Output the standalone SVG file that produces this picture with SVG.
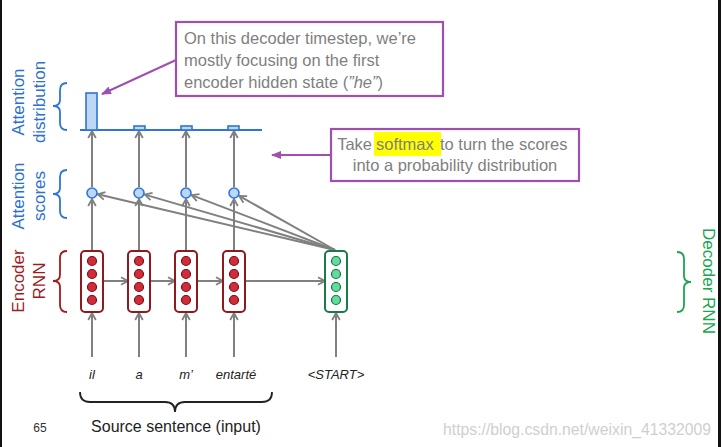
<svg xmlns="http://www.w3.org/2000/svg" width="723" height="447" viewBox="0 0 723 447">
<style>
.t{font-family:"Liberation Sans",Arial,sans-serif}
.gray{fill:#7f7f7f;font-size:16.5px}
.word{font-family:"Liberation Sans",Arial,sans-serif;font-style:italic;font-size:13px;fill:#222}
.blue{fill:#2e6fd0;font-size:17px}
.red{fill:#a01c1c;font-size:17px}
.green{fill:#1aa550;font-size:17px}
.arr{stroke:#808080;stroke-width:2;fill:none;marker-end:url(#ah)}
.enc{fill:#fff;stroke:#8e1a20;stroke-width:2}
.encd{fill:#d22c3a;stroke:#7a1016;stroke-width:1.2}
.dec{fill:#fff;stroke:#1a7a4a;stroke-width:2}
.decd{fill:#62dc9c;stroke:#167046;stroke-width:1.2}
.sc{fill:#bcd6f5;stroke:#2e75d6;stroke-width:1.6}
.bar{fill:#bdd7f5;stroke:#2e75d6;stroke-width:1.6}
.callout{fill:#fff;stroke:#a04fb0;stroke-width:2.2}
.parr{stroke:#a04fb0;stroke-width:2;fill:none;marker-end:url(#pa)}
.brace{fill:none;stroke-width:1.8}
</style>
<defs>
<marker id="ah" viewBox="0 0 10 10" refX="9" refY="5" markerWidth="10" markerHeight="10" markerUnits="userSpaceOnUse" orient="auto">
<path d="M2,1.2 L9,5 L2,8.8" fill="none" stroke="#808080" stroke-width="1.8"/>
</marker>
<marker id="pa" viewBox="0 0 10 10" refX="9" refY="5" markerWidth="10" markerHeight="10" markerUnits="userSpaceOnUse" orient="auto">
<path d="M0,1 L10,5 L0,9 z" fill="#a04fb0"/>
</marker>
</defs>
<rect x="0" y="0" width="723" height="447" fill="#fff"/>
<rect x="0" y="0" width="2" height="447" fill="#111"/>
<rect x="718" y="0" width="3" height="447" fill="#111"/>

<g id="labels">
<g transform="translate(24,102) rotate(-90)" class="t blue" text-anchor="middle"><text x="0" y="0">Attention</text><text x="0" y="21">distribution</text></g>
<g transform="translate(24,196) rotate(-90)" class="t blue" text-anchor="middle"><text x="0" y="0">Attention</text><text x="0" y="21">scores</text></g>
<g transform="translate(24,281) rotate(-90)" class="t red" text-anchor="middle"><text x="0" y="0">Encoder</text><text x="0" y="21">RNN</text></g>
<text transform="translate(703,281) rotate(90)" class="t green" text-anchor="middle">Decoder RNN</text>
<path class="brace" stroke="#2e75d6" d="M67,83 Q60,83 60,90 L60,100 Q60,106 53,106 Q60,106 60,112 L60,123 Q60,130 67,130"/>
<path class="brace" stroke="#2e75d6" d="M67,170 Q60,170 60,177 L60,188 Q60,194 53,194 Q60,194 60,200 L60,211 Q60,218 67,218"/>
<path class="brace" stroke="#a01c1c" d="M67,251 Q60,251 60,258 L60,275 Q60,281 53,281 Q60,281 60,287 L60,305 Q60,312 67,312"/>
<path class="brace" stroke="#1aa550" d="M677,252 Q684,252 684,259 L684,276 Q684,282 691,282 Q684,282 684,288 L684,305 Q684,312 677,312"/>
</g>

<g id="connectors">
<line class="arr" x1="92" y1="251" x2="92" y2="199"/>
<line class="arr" x1="139" y1="251" x2="139" y2="199"/>
<line class="arr" x1="186" y1="251" x2="186" y2="199"/>
<line class="arr" x1="234" y1="251" x2="234" y2="199"/>
<line class="arr" x1="92" y1="187" x2="92" y2="131"/>
<line class="arr" x1="139" y1="187" x2="139" y2="131"/>
<line class="arr" x1="186" y1="187" x2="186" y2="131"/>
<line class="arr" x1="234" y1="187" x2="234" y2="131"/>
<line class="arr" x1="335" y1="250" x2="97.8" y2="194.3"/>
<line class="arr" x1="335" y1="250" x2="144.8" y2="194.6"/>
<line class="arr" x1="335" y1="250" x2="191.6" y2="195.1"/>
<line class="arr" x1="335" y1="250" x2="239.2" y2="195.9"/>
<line class="arr" x1="103" y1="281" x2="128" y2="281"/>
<line class="arr" x1="150" y1="281" x2="175" y2="281"/>
<line class="arr" x1="197" y1="281" x2="223" y2="281"/>
<line class="arr" x1="245" y1="281" x2="325" y2="281"/>
<line class="arr" x1="92" y1="357" x2="92" y2="313"/>
<line class="arr" x1="139" y1="357" x2="139" y2="313"/>
<line class="arr" x1="186" y1="357" x2="186" y2="313"/>
<line class="arr" x1="234" y1="357" x2="234" y2="313"/>
<line class="arr" x1="336" y1="357" x2="336" y2="313"/>
<line class="parr" x1="176" y1="60" x2="102" y2="94"/>
<line class="parr" x1="331" y1="155" x2="272" y2="155"/>
</g>

<g id="attention-distribution">
<line x1="80" y1="130" x2="262" y2="130" stroke="#2e75d6" stroke-width="2"/>
<rect class="bar" x="86" y="93" width="11" height="37"/>
<rect class="bar" x="134" y="126" width="11" height="4"/>
<rect class="bar" x="181" y="126" width="11" height="4"/>
<rect class="bar" x="228" y="126" width="11" height="4"/>
</g>

<g id="attention-scores">
<circle class="sc" cx="92" cy="193" r="5"/>
<circle class="sc" cx="139" cy="193" r="5"/>
<circle class="sc" cx="186" cy="193" r="5"/>
<circle class="sc" cx="234" cy="193" r="5"/>
</g>

<g id="enc1"><rect class="enc" x="81" y="251" width="22" height="61" rx="4"/><circle class="encd" cx="92" cy="261" r="4.5"/><circle class="encd" cx="92" cy="274" r="4.5"/><circle class="encd" cx="92" cy="287" r="4.5"/><circle class="encd" cx="92" cy="300" r="4.5"/></g>
<g id="enc2"><rect class="enc" x="128" y="251" width="22" height="61" rx="4"/><circle class="encd" cx="139" cy="261" r="4.5"/><circle class="encd" cx="139" cy="274" r="4.5"/><circle class="encd" cx="139" cy="287" r="4.5"/><circle class="encd" cx="139" cy="300" r="4.5"/></g>
<g id="enc3"><rect class="enc" x="175" y="251" width="22" height="61" rx="4"/><circle class="encd" cx="186" cy="261" r="4.5"/><circle class="encd" cx="186" cy="274" r="4.5"/><circle class="encd" cx="186" cy="287" r="4.5"/><circle class="encd" cx="186" cy="300" r="4.5"/></g>
<g id="enc4"><rect class="enc" x="223" y="251" width="22" height="61" rx="4"/><circle class="encd" cx="234" cy="261" r="4.5"/><circle class="encd" cx="234" cy="274" r="4.5"/><circle class="encd" cx="234" cy="287" r="4.5"/><circle class="encd" cx="234" cy="300" r="4.5"/></g>
<g id="dec1"><rect class="dec" x="325" y="251" width="22" height="61" rx="4"/><circle class="decd" cx="336" cy="261" r="4.5"/><circle class="decd" cx="336" cy="274" r="4.5"/><circle class="decd" cx="336" cy="287" r="4.5"/><circle class="decd" cx="336" cy="300" r="4.5"/></g>

<g id="words" text-anchor="middle">
<text class="word" x="92" y="379">il</text>
<text class="word" x="139" y="379">a</text>
<text class="word" x="186" y="379">m’</text>
<text class="word" x="236" y="379">entarté</text>
<text class="word" x="336" y="379">&lt;START&gt;</text>
</g>

<g id="source">
<path class="brace" stroke="#222" d="M80,392 Q80,402 90,402 L165,402 Q175,402 175,412 Q175,402 185,402 L262,402 Q272,402 272,392"/>
<text class="t" x="176" y="432" text-anchor="middle" font-size="16" fill="#222">Source sentence (input)</text>
<text class="t" x="40" y="432" text-anchor="middle" font-size="12" fill="#333">65</text>
</g>

<g id="callout1">
<rect class="callout" x="176" y="22" width="267" height="74"/>
<text class="t gray" x="184" y="44">On this decoder timestep, we’re</text>
<text class="t gray" x="184" y="66">mostly focusing on the first</text>
<text class="t gray" x="184" y="88">encoder hidden state (<tspan font-style="italic">”he”</tspan>)</text>
</g>

<g id="callout2">
<rect class="callout" x="331" y="129" width="248" height="52"/>
<rect x="374" y="132" width="67" height="24" fill="#ffff00"/>
<text class="t gray" x="372" y="150" text-anchor="end">Take</text>
<text class="t gray" x="376" y="150">softmax</text>
<text class="t gray" x="440" y="150">to turn the scores</text>
<text class="t gray" x="455" y="171" text-anchor="middle">into a probability distribution</text>
</g>

<text class="t" x="443" y="435" font-size="16" fill="#cfcfcf" textLength="268" lengthAdjust="spacingAndGlyphs">https://blog.csdn.net/weixin_41332009</text>
</svg>
